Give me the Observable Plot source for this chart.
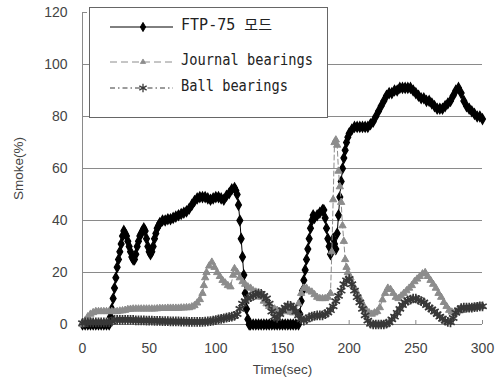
<!DOCTYPE html>
<html>
<head>
<meta charset="utf-8">
<script src="https://cdn.jsdelivr.net/npm/d3@7"></script>
<script src="https://cdn.jsdelivr.net/npm/@observablehq/plot@0.6"></script>
<style>
  html, body { margin: 0; padding: 0; background: #fff; }
  #wrap { position: relative; width: 499px; height: 385px; overflow: hidden; }
  #legend { position: absolute; left: 89px; top: 7px; }
</style>
</head>
<body>
<div id="wrap"><div id="chart"></div><div id="legend"></div></div>
<script>
// ---- data ----
const seriesNames = ["FTP-75 모드", "Journal bearings", "Ball bearings"];
const xTicks = [0, 50, 100, 150, 200, 250, 300];
const yTicks = [0, 20, 40, 60, 80, 100, 120];
const gridVals = [20, 40, 60, 80, 100];

const ftpTime = [0,2,4,6,8,10,12,14,16,18,20,21,22,23,24,25,26,27,28,29,30,31,32,33,34,35,36,37,38,39,40,41,42,43,44,45,46,47,48,49,50,51,52,53,54,55,56,57,58,60,62,64,66,68,70,72,74,76,78,80,82,84,86,88,90,92,94,96,98,100,102,104,106,108,110,112,114,115,116,117,118,119,120,121,122,123,124,125,126,128,130,132,134,136,138,140,142,144,146,148,150,152,154,156,158,160,162,163,164,165,166,167,168,169,170,171,172,173,174,176,178,180,181,182,183,184,185,186,187,188,189,190,191,192,193,194,195,196,197,198,199,200,202,204,206,208,210,212,214,216,218,220,222,224,226,228,230,232,234,236,238,240,242,244,246,248,250,252,254,256,258,260,262,264,266,268,270,272,274,276,278,280,282,284,286,288,290,292,294,296,298,300];
const ftpSmoke = [0,0,0,0,0,0,0,0,0,0,0,3,6,10,14,18,22,25,28,31,34,36,35,34,32,30,28,26,25,25,27,30,32,34,35,36,37,36,33,30,28,27,28,30,33,35,37,38,39,40,40,40.5,40.5,41,41.5,42,42.5,43,43.5,44.5,46,47.5,48.5,49,49,49,48.5,48,48.5,49,49,48.5,48,49.5,50.5,52,52.5,51.5,50,46,40,33,26,19,12,6,2,0,0,0,0,0,0,0,0,0,0,0,0,0,0,0,0,0,0,0,0,4,9,13,17,21,25,29,33,37,40,42,41,42,43,44,44,41,37,33,30,27,29,33,31,29,35,42,49,55,60,64,67,70,72,73.5,75,76,76,76,76,76,76,77,78,80,82,84,86,88,89,89,90,90,91,91,91,91,91,90,89,88,87,87,86,86,85,84,83,83,83,84,85,86,88,90,91,89,86,84,83,82,81,80,80,79,78];

const journalTime = [0,2,4,6,8,10,12,14,16,18,20,22,24,26,28,30,32,34,36,38,40,42,44,46,48,50,52,54,56,58,60,62,64,66,68,70,72,74,76,78,80,82,84,86,88,90,91,92,93,95,97,99,101,103,105,107,109,111,113,114,116,118,120,122,124,126,128,130,132,134,136,138,140,142,144,146,148,150,152,154,156,158,160,162,164,166,168,170,172,174,176,178,180,182,184,186,187,188,189,190,191,192,193,194,195,196,197,198,199,201,203,205,207,209,211,213,215,217,219,221,223,225,227,229,231,233,235,237,239,241,243,245,247,249,251,253,255,257,259,261,263,265,267,269,271,273,275,277,279,281,283,285,287,289,291,293,295,297,299,300];
const journalSmoke = [0,1.5,3,4,4.6,5,5,5,5,5,5,5,5,5,5.2,5.3,5.5,5.8,5.9,6,6,6,6,6,6,6,6,6,6.1,6.2,6.2,6.2,6.3,6.3,6.3,6.3,6.3,6.4,6.4,6.5,6.5,6.8,7.3,8.3,9.6,12,15,18,20,22.5,24,22,20,18.5,17,16,15,14.5,19,21.5,20,18,16.5,15.5,14.5,14,13,12.5,12,10.5,9,8,7,6.5,6,5.5,5,5,5,5,4.8,4.5,5,8,12,14,14,13,12.5,11.5,10.5,10,10,10,10.5,12,28,48,70,71,69,59,53,47,38,32,25,22,20,18,15,13,11,9,7,5.5,4.5,4,4.5,5,6.5,9.5,12,14,13.5,12,10.5,10,11,12,13,14,15,16.5,17.5,18.5,19.5,20,18.5,17,15.5,14,12,10.5,8.5,7,5.5,4.8,4.6,5,5.3,5.5,5.8,6,6.2,6.4,6.6,6.8,7,7];

const ballTime = [0,2,4,6,8,10,12,14,16,18,20,22,24,26,28,30,32,34,36,38,40,42,44,46,48,50,52,54,56,58,60,62,64,66,68,70,72,74,76,78,80,82,84,86,88,90,92,94,96,98,100,102,104,106,108,110,112,114,116,118,120,122,124,126,128,130,132,134,136,138,140,142,144,146,148,150,152,154,156,158,160,162,164,166,168,170,172,174,176,178,180,182,184,186,188,190,192,194,196,198,200,202,204,206,208,210,212,214,216,218,220,222,224,226,228,230,232,234,236,238,240,242,244,246,248,250,252,254,256,258,260,262,264,266,268,270,272,274,276,278,280,282,284,286,288,290,292,294,296,298,300];
const ballSmoke = [0.5,0.8,0.8,0.8,0.8,0.8,0.8,0.8,0.8,0.8,0.8,1.2,1.8,1.8,1.8,1.8,1.8,1.8,1.8,1.8,1.6,1.6,1.6,1.6,1.5,1.5,1.5,1.4,1.4,1.4,1.3,1.3,1.3,1.2,1.2,1.2,1.2,1.1,1.1,1.1,1,1,1,1,1,1,1.1,1.2,1.3,1.5,1.7,2,2.2,2.4,2.6,2.8,3,3.3,4,6,8,9,10,10.5,11,11.5,12,11.8,11,10,8,5,3,2.5,4,5.5,6.5,7.3,7.2,6.5,5,3.5,2,1.5,2,2.7,3,3.3,3.5,3.5,3.5,4,4.6,5.5,7,9,11,13,15.5,17,17.5,15.5,13,10.5,8.5,6,3.5,1.5,0.3,0,0,0,0,0,0.3,0.8,2,3,4.5,6,7.5,8.5,9.2,9.6,10,10,9.5,9,8.5,7.5,6.5,5.8,5,4,3,2.2,1.5,1,0.8,2.5,4.5,5.5,6.3,6.5,6.5,6.5,6.5,6.7,6.8,7,7];

// ---- tables ----
const ftp = ftpTime.map((t, i) => ({t, v: ftpSmoke[i]}));
const journal = journalTime.map((t, i) => ({t, v: journalSmoke[i]}));
const ball = ballTime.map((t, i) => ({t, v: ballSmoke[i]}));

const GRAY = "#8a8a8a";
const JCOL = "#8c8c8c";
const BCOL = "#383838";

const chart = Plot.plot({
  width: 499,
  height: 385,
  marginLeft: 82,
  marginRight: 17,
  marginTop: 12,
  marginBottom: 61,
  x: {domain: [0, 300]},
  y: {domain: [0, 120]},
  style: {fontFamily: "'Liberation Sans', Arial, sans-serif", fontSize: "14px", color: "#444", background: "transparent"},
  marks: [
    Plot.gridY(gridVals, {stroke: GRAY, strokeOpacity: 1}),
    Plot.ruleX([0], {stroke: GRAY}),
    Plot.ruleY([0], {stroke: GRAY}),
    Plot.axisY(yTicks, {tickSize: 0, tickPadding: 15, label: null}),
    Plot.axisY(yTicks, {tickSize: -5, tickFormat: () => "", label: null, stroke: GRAY}),
    Plot.axisX(xTicks, {tickSize: 0, tickPadding: 19, label: null}),
    Plot.axisX(xTicks, {tickSize: -4, tickFormat: () => "", label: null, stroke: GRAY}),
    // FTP-75
    Plot.line(ftp, {x: "t", y: "v", stroke: "black", strokeWidth: 1}),
    Plot.dot(ftp, {x: "t", y: "v", symbol: "diamond", r: 3.1, fill: "black", stroke: "black", strokeWidth: 1.2}),
    // Journal bearings
    Plot.line(journal, {x: "t", y: "v", stroke: JCOL, strokeWidth: 1, strokeDasharray: "5,3"}),
    Plot.dot(journal, {x: "t", y: "v", symbol: "triangle", r: 2.7, fill: JCOL, stroke: JCOL, strokeWidth: 1}),
    // Ball bearings
    Plot.line(ball, {x: "t", y: "v", stroke: BCOL, strokeWidth: 1, strokeDasharray: "6,2,1.5,2"}),
    Plot.dot(ball, {x: "t", y: "v", symbol: "asterisk", r: 4.6, stroke: BCOL, strokeWidth: 1.7}),
    // axis titles
    Plot.text(["Smoke(%)"], {text: d => d, frameAnchor: "left", dx: -64, rotate: -90, textAnchor: "middle", fontSize: 13.5, fill: "#444"}),
    Plot.text(["Time(sec)"], {text: d => d, frameAnchor: "bottom", dy: 49, textAnchor: "middle", fontSize: 13.5, fill: "#444"})
  ]
});
document.getElementById("chart").appendChild(chart);

// ---- legend (HTML/SVG overlay) ----
const ns = "http://www.w3.org/2000/svg";
const lg = d3.select("#legend").append("svg").attr("xmlns", ns)
  .attr("width", 239).attr("height", 111);
lg.append("rect").attr("x", 0.5).attr("y", 0.5).attr("width", 238).attr("height", 110)
  .attr("fill", "white").attr("stroke", "#666").attr("stroke-width", 1);
const rows = [
  {name: seriesNames[0], y: 20, w: 91, stroke: "black", dash: null, sym: "diamond"},
  {name: seriesNames[1], y: 55, w: 132, stroke: JCOL, dash: "7,4", sym: "triangle"},
  {name: seriesNames[2], y: 81, w: 107, stroke: BCOL, dash: "5,3,1.5,3", sym: "asterisk"}
];
rows.forEach(r => {
  lg.append("line").attr("x1", 21).attr("x2", 84).attr("y1", r.y).attr("y2", r.y)
    .attr("stroke", r.stroke).attr("stroke-width", 1).attr("stroke-dasharray", r.dash);
  if (r.sym === "diamond") {
    lg.append("path").attr("d", d3.symbol(d3.symbolDiamond, 24)()).attr("transform", `translate(54,${r.y})`)
      .attr("fill", "black").attr("stroke", "black").attr("stroke-width", 1);
  } else if (r.sym === "triangle") {
    lg.append("path").attr("d", d3.symbol(d3.symbolTriangle, 12)()).attr("transform", `translate(54,${r.y})`)
      .attr("fill", JCOL).attr("stroke", JCOL).attr("stroke-width", 0.8);
  } else {
    lg.append("path").attr("d", d3.symbol(d3.symbolAsterisk, 50)()).attr("transform", `translate(54,${r.y})`)
      .attr("fill", "none").attr("stroke", BCOL).attr("stroke-width", 1.3);
  }
  lg.append("text").attr("x", 92).attr("y", r.y + 3)
    .attr("font-family", "'DejaVu Sans Mono', 'Noto Sans CJK KR', monospace")
    .attr("font-size", 15).attr("fill", "#222")
    .attr("textLength", r.w).attr("lengthAdjust", "spacingAndGlyphs")
    .text(r.name);
});
</script>
</body>
</html>
